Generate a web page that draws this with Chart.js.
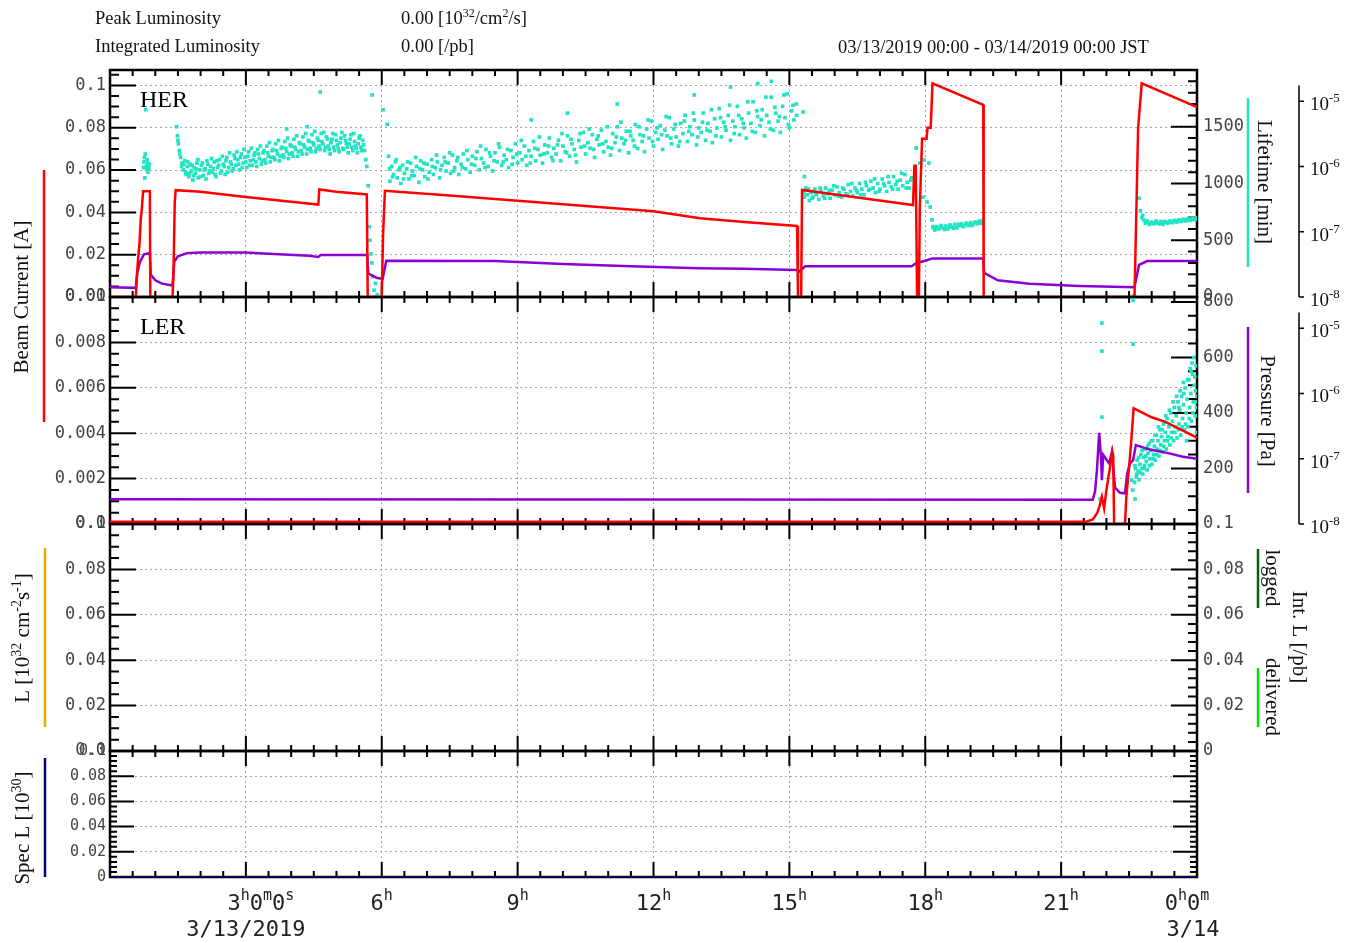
<!DOCTYPE html>
<html>
<head>
<meta charset="utf-8">
<script src="https://cdn.jsdelivr.net/npm/chart.js"></script>
<style>
  body { margin: 0; background: #fff; width: 1360px; height: 943px; position: relative; overflow: hidden; }
  canvas { position: absolute; left: 0; top: 0; }
</style>
</head>
<body>
<script>
// ---- data (hours since 3/13 00:00 JST) ----

// HER beam current [A]
const herCurrent = [[0,0],[0.57,0],[0.60,0.012],[0.62,0.018],[0.65,0.025],[0.68,0.037],[0.70,0.041],[0.73,0.05],[0.88,0.05],[0.89,0],
  [1.38,0],[1.40,0.01],[1.43,0.045],[1.45,0.0505],[2.0,0.0497],[3.0,0.0473],[4.0,0.045],[4.60,0.0437],[4.62,0.0508],[5.0,0.0497],
  [5.67,0.0485],[5.69,0],[6.00,0],[6.03,0.03],[6.07,0.0502],[7.5,0.048],[9.0,0.0455],[10.5,0.043],[12.0,0.0405],[13.03,0.0372],
  [14.0,0.0355],[15.17,0.0336],[15.19,0],[15.26,0],[15.28,0.0506],[16.5,0.047],[17.73,0.0435],[17.76,0.062],[17.79,0.062],[17.82,0],
  [17.86,0],[17.88,0.042],[17.93,0.0748],[18.03,0.0748],[18.05,0.080],[18.12,0.080],[18.16,0.101],[19.28,0.0908],[19.29,0],[22.62,0],
  [22.70,0.080],[22.78,0.101],[24,0.0898]];

// HER pressure [Pa] (log axis)
const herPressure = [[0,1.41e-8],[0.57,1.38e-8],[0.60,2.3e-8],[0.66,3.4e-8],[0.75,4.5e-8],[0.88,4.7e-8],[0.90,2.2e-8],[1.0,1.8e-8],
  [1.15,1.6e-8],[1.38,1.5e-8],[1.42,3.5e-8],[1.5,4.2e-8],[1.7,4.7e-8],[2.0,4.8e-8],[3.0,4.8e-8],[3.5,4.6e-8],[4.4,4.3e-8],[4.6,4.1e-8],
  [4.65,4.4e-8],[5.68,4.4e-8],[5.70,2.3e-8],[5.9,1.95e-8],[6.02,1.9e-8],[6.1,3.6e-8],[8.5,3.55e-8],[10,3.2e-8],[11.5,2.95e-8],
  [13,2.75e-8],[14,2.7e-8],[15.17,2.6e-8],[15.2,2.4e-8],[15.35,2.95e-8],[17.7,2.95e-8],[17.8,3.3e-8],[18.0,3.6e-8],[18.16,3.9e-8],
  [19.28,3.9e-8],[19.3,2.35e-8],[19.6,1.8e-8],[20.3,1.6e-8],[21.4,1.48e-8],[22.62,1.41e-8],[22.72,3.1e-8],[22.9,3.55e-8],[24,3.55e-8]];

// HER lifetime [min] (scatter)
const herLifetime = [
  [0.79,1650],[0.74,1140],[0.75,1190],[0.76,1230],[0.77,1050],[0.78,1260],[0.80,1150],[0.81,1120],[0.82,1210],[0.83,1180],[0.84,1100],[0.85,1160],[0.86,1130],[0.87,1170],
  [1.47,1500],[1.49,1420],[1.51,1350],[1.53,1290],[1.56,1230],[1.59,1180],[1.62,1120],[1.65,1200],[1.68,1080],[1.71,1150],[1.74,1060],[1.77,1170],[1.80,1110],[1.83,1030],
  [1.86,1140],[1.89,1090],[1.92,1180],[1.95,1050],[1.98,1120],[2.02,1160],[2.06,1070],[2.10,1130],[2.14,1200],[2.18,1090],[2.22,1150],[2.26,1100],[2.30,1190],[2.34,1060],
  [2.38,1140],[2.42,1210],[2.46,1110],[2.50,1170],[2.54,1080],[2.58,1230],[2.62,1140],[2.66,1190],[2.70,1110],[2.74,1250],[2.78,1160],[2.82,1210],[2.86,1120],[2.90,1260],
  [2.94,1180],[2.98,1230],[3.02,1140],[3.06,1280],[3.10,1200],[3.14,1160],[3.18,1250],[3.22,1190],[3.26,1300],[3.30,1220],[3.34,1170],[3.38,1270],[3.42,1210],[3.46,1330],
  [3.50,1240],[3.54,1190],[3.58,1290],[3.62,1230],[3.66,1350],[3.70,1260],[3.74,1200],[3.78,1310],[3.82,1250],[3.86,1370],[3.90,1280],[3.94,1220],[3.98,1340],[4.02,1270],
  [4.06,1390],[4.10,1300],[4.14,1240],[4.18,1360],[4.22,1290],[4.26,1410],[4.30,1320],[4.34,1260],[4.38,1380],[4.42,1310],[4.46,1430],[4.50,1340],[4.54,1280],[4.58,1400],
  [4.62,1330],[4.66,1440],[4.70,1350],[4.74,1290],[4.78,1410],[4.82,1330],[4.86,1260],[4.90,1390],[4.94,1320],[4.98,1430],[5.02,1340],[5.06,1280],[5.10,1400],[5.14,1310],
  [5.18,1420],[5.22,1350],[5.26,1270],[5.30,1390],[5.34,1320],[5.38,1440],[5.42,1330],[5.46,1270],[5.50,1400],[5.54,1320],[5.58,1380],[5.62,1290],[5.65,1210],[5.67,1150],
  [1.50,1380],[1.54,1260],[1.58,1150],[1.63,1170],[1.67,1100],[1.72,1190],[1.76,1090],[1.81,1160],[1.85,1070],[1.90,1130],[1.94,1210],[1.99,1060],[2.04,1180],[2.08,1120],
  [2.12,1040],[2.16,1170],[2.20,1110],[2.24,1220],[2.28,1130],[2.32,1080],[2.36,1200],[2.40,1160],[2.44,1090],[2.48,1240],[2.52,1150],[2.56,1200],[2.60,1100],[2.64,1270],
  [2.68,1170],[2.72,1130],[2.76,1220],[2.80,1280],[2.84,1170],[2.88,1230],[2.92,1140],[2.96,1300],[3.00,1190],[3.04,1240],[3.08,1160],[3.12,1310],[3.16,1210],[3.20,1270],
  [3.24,1150],[3.28,1260],[3.32,1330],[3.36,1200],[3.40,1290],[3.44,1180],[3.48,1270],[3.52,1360],[3.56,1230],[3.60,1300],[3.64,1210],[3.68,1290],[3.72,1380],[3.76,1240],
  [3.80,1320],[3.84,1230],[3.88,1310],[3.92,1400],[3.96,1260],[4.00,1330],[4.04,1240],[4.08,1320],[4.12,1420],[4.16,1280],[4.20,1350],[4.24,1260],[4.28,1340],[4.32,1440],
  [4.36,1300],[4.40,1370],[4.44,1280],[4.48,1360],[4.52,1460],[4.56,1310],[4.60,1380],[4.64,1300],[4.68,1370],[4.72,1450],[4.76,1320],[4.80,1390],[4.84,1300],[4.88,1360],
  [4.92,1440],[4.96,1290],[5.00,1380],[5.04,1310],[5.08,1360],[5.12,1450],[5.16,1300],[5.20,1380],[5.24,1320],[5.28,1350],[5.32,1430],[5.36,1290],[5.40,1370],[5.44,1310],
  [5.48,1350],[5.52,1420],[5.56,1290],[5.60,1340],
  [4.64,1806],[3.90,1480],[4.35,1500],
  [5.70,980],[5.72,620],[5.74,500],[5.76,380],[5.78,300],[5.80,180],[5.83,60],[5.86,120],[5.90,20],[5.79,1780],[6.03,1650],[6.12,1520],
  [6.15,1240],[6.18,1020],[6.22,1150],[6.26,1080],[6.30,1190],[6.34,1050],[6.38,1120],[6.42,1000],[6.46,1160],[6.50,1090],[6.55,1130],[6.60,1040],[6.64,1180],[6.68,1110],
  [6.72,1070],[6.77,1150],[6.82,1010],[6.86,1200],[6.90,1120],[6.95,1060],[7.00,1170],[7.05,1100],[7.10,1210],[7.14,1080],[7.18,1140],[7.23,1190],[7.28,1050],[7.33,1160],
  [7.38,1230],[7.42,1110],[7.47,1180],[7.52,1090],[7.56,1250],[7.61,1140],[7.66,1200],[7.70,1080],[7.75,1170],[7.80,1260],[7.85,1130],[7.90,1210],[7.95,1100],[8.00,1240],
  [8.05,1160],[8.10,1280],[8.15,1120],[8.20,1220],[8.25,1180],[8.30,1300],[8.35,1150],[8.40,1240],[8.45,1110],[8.50,1270],[8.55,1190],[8.60,1320],[8.65,1160],[8.70,1250],
  [8.75,1210],[8.80,1140],[8.85,1290],[8.90,1230],[8.95,1350],[9.00,1180],[9.05,1270],[9.10,1210],[9.15,1330],[9.20,1160],[9.25,1290],[9.30,1240],[9.35,1370],[9.40,1200],
  [9.45,1300],[9.50,1250],[9.55,1180],[9.60,1340],[9.65,1270],[9.70,1400],[9.75,1230],[9.80,1310],[9.85,1260],[9.90,1380],[9.95,1200],[10.00,1330],[10.05,1280],[10.10,1420],
  [10.15,1240],[10.20,1350],[10.25,1300],[10.30,1190],[10.35,1380],[10.40,1320],[10.45,1450],[10.50,1260],[10.55,1360],[10.60,1310],[10.65,1430],[10.70,1230],[10.75,1390],
  [10.80,1340],[10.85,1470],[10.90,1280],[10.95,1370],[11.00,1320],[11.05,1250],[11.10,1440],[11.15,1360],[11.20,1500],[11.25,1290],[11.30,1400],[11.35,1350],[11.40,1460],
  [11.45,1270],[11.50,1420],[11.55,1380],[11.60,1520],[11.65,1310],[11.70,1430],[11.75,1370],[11.80,1280],[11.85,1480],[11.90,1400],[11.95,1550],[12.00,1330],[12.05,1450],
  [12.10,1390],[12.15,1510],[12.20,1300],[12.25,1470],[12.30,1420],[12.35,1580],[12.40,1350],[12.45,1480],[12.50,1410],[12.55,1330],[12.60,1530],[12.65,1440],[12.70,1600],
  [12.75,1370],[12.80,1500],[12.85,1430],[12.90,1560],[12.95,1340],[13.00,1490],[13.05,1450],[13.10,1620],[13.15,1380],[13.20,1530],[13.25,1460],[13.30,1360],[13.35,1570],
  [13.40,1490],[13.45,1660],[13.50,1410],[13.55,1540],[13.60,1470],[13.65,1600],[13.70,1380],[13.75,1550],[13.80,1500],[13.85,1680],[13.90,1430],[13.95,1570],[14.00,1490],
  [14.05,1400],[14.10,1620],[14.15,1530],[14.20,1720],[14.25,1450],[14.30,1590],[14.35,1510],[14.40,1650],[14.45,1420],[14.50,1600],[14.55,1540],[14.60,1760],[14.65,1470],
  [14.70,1620],[14.75,1550],[14.80,1450],[14.85,1680],[14.90,1580],[14.95,1790],[15.00,1490],[15.05,1640],[15.10,1560],[15.15,1700],
  [6.17,1130],[6.24,1060],[6.32,1210],[6.40,1140],[6.48,1040],[6.57,1190],[6.66,1070],[6.75,1230],[6.84,1130],[6.93,1180],[7.02,1040],[7.12,1150],[7.21,1250],[7.30,1120],
  [7.40,1190],[7.50,1270],[7.59,1110],[7.68,1230],[7.78,1140],[7.88,1290],[7.98,1170],[8.08,1220],[8.18,1330],[8.28,1140],[8.38,1270],[8.48,1200],[8.58,1350],[8.68,1190],
  [8.78,1300],[8.88,1170],[8.98,1260],[9.08,1380],[9.18,1240],[9.28,1180],[9.38,1310],[9.48,1410],[9.58,1260],[9.68,1330],[9.78,1200],[9.88,1340],[9.98,1440],[10.08,1270],
  [10.18,1390],[10.28,1250],[10.38,1440],[10.48,1330],[10.58,1480],[10.68,1300],[10.78,1420],[10.88,1350],[10.98,1500],[11.08,1310],[11.18,1410],[11.28,1540],[11.38,1380],
  [11.48,1460],[11.58,1330],[11.68,1500],[11.78,1420],[11.88,1560],[11.98,1370],[12.08,1490],[12.18,1430],[12.28,1590],[12.38,1400],[12.48,1520],[12.58,1370],[12.68,1550],
  [12.78,1460],[12.88,1620],[12.98,1410],[13.08,1540],[13.18,1470],[13.28,1650],[13.38,1420],[13.48,1580],[13.58,1500],[13.68,1690],[13.78,1440],[13.88,1600],[13.98,1530],
  [14.08,1720],[14.18,1460],[14.28,1640],[14.38,1560],[14.48,1760],[14.58,1480],[14.68,1670],[14.78,1590],[14.88,1780],[14.98,1520],[15.08,1690],[15.16,1600],
  [13.70,1850],[14.30,1880],[14.60,1900],[12.90,1780],[11.20,1700],[10.10,1620],[9.30,1560],
  [15.30,1630],[15.33,1060],
  [15.30,930],[15.33,880],[15.36,960],[15.40,900],[15.44,850],[15.48,920],[15.52,880],[15.56,950],[15.60,900],[15.65,860],[15.70,930],[15.75,890],[15.80,960],[15.85,910],
  [15.90,870],[15.95,940],[16.00,900],[16.05,970],[16.10,920],[16.15,880],[16.20,950],[16.25,910],[16.30,990],[16.35,930],[16.40,890],[16.45,960],[16.50,920],[16.55,1000],
  [16.60,950],[16.65,900],[16.70,980],[16.75,940],[16.80,1020],[16.85,960],[16.90,920],[16.95,1000],[17.00,950],[17.05,1040],[17.10,980],[17.15,930],[17.20,1010],[17.25,970],
  [17.30,1060],[17.35,990],[17.40,950],[17.45,1030],[17.50,980],[17.55,1080],[17.60,1010],[17.65,960],[17.70,1050],
  [15.32,910],[15.42,950],[15.50,870],[15.58,920],[15.68,960],[15.78,870],[15.88,940],[15.98,980],[16.08,890],[16.18,960],[16.28,900],[16.38,1000],[16.48,940],
  [16.58,900],[16.68,1010],[16.78,950],[16.88,1040],[16.98,930],[17.08,1000],[17.18,1060],[17.28,950],[17.38,1020],[17.48,1090],[17.58,960],[17.68,1030],
  [17.80,1313],[17.88,1180],[18.08,1180],[17.95,880],[18.04,837],[18.11,793],[17.97,1207],
  [18.15,680],[18.18,610],[18.21,590],[18.25,620],[18.30,600],[18.35,630],[18.40,605],[18.45,625],[18.50,600],[18.55,635],[18.60,615],[18.65,640],[18.70,610],[18.75,630],
  [18.80,645],[18.85,620],[18.90,650],[18.95,630],[19.00,655],[19.05,640],[19.10,660],[19.15,645],[19.20,670],[19.25,655],[19.28,675],
  [18.17,620],[18.23,605],[18.33,615],[18.43,595],[18.53,620],[18.63,605],[18.73,640],[18.83,625],[18.93,640],[19.03,630],[19.13,655],[19.23,650],
  [22.60,10],[22.72,870],[22.75,760],[22.78,700],[22.82,680],[22.86,650],[22.90,670],[22.95,640],[23.00,660],[23.05,645],[23.10,670],[23.15,650],[23.20,665],[23.25,640],
  [23.30,660],[23.35,650],[23.40,670],[23.45,655],[23.50,675],[23.55,660],[23.60,680],[23.65,665],[23.70,685],[23.75,670],[23.80,690],[23.85,675],[23.90,695],[23.95,680],[24.00,700],
  [22.80,720],[22.88,660],[22.98,650],[23.08,655],[23.18,645],[23.28,665],[23.38,660],[23.48,665],[23.58,670],[23.68,675],[23.78,680],[23.88,685],[23.98,690]];

// LER beam current [A]
const lerCurrent = [[0,0.0001],[21.55,0.0001],[21.7,0.0002],[21.8,0.0005],[21.85,0.0008],[21.9,0.0012],[21.95,0.0007],[22.0,0.0015],
  [22.08,0.0025],[22.13,0.0032],[22.15,0.003],[22.17,0],[22.41,0],[22.44,0.0012],[22.5,0.0025],[22.55,0.0037],[22.6,0.0051],
  [22.8,0.0049],[23.0,0.0047],[23.3,0.0045],[23.6,0.0042],[24,0.0038]];

// LER pressure [Pa] (log axis)
const lerPressure = [[0,2.4e-8],[21.70,2.35e-8],[21.75,3.2e-8],[21.79,6.6e-8],[21.84,2.5e-7],[21.88,1.07e-7],[21.90,4.7e-8],[21.93,1.15e-7],
  [22.01,9.5e-8],[22.06,8.5e-8],[22.12,1.26e-7],[22.15,7.4e-8],[22.19,3.6e-8],[22.30,3.0e-8],[22.41,2.95e-8],[22.46,6.0e-8],[22.52,8.5e-8],
  [22.59,9.5e-8],[22.65,1.62e-7],[22.96,1.38e-7],[23.34,1.23e-7],[23.69,1.07e-7],[24,1.0e-7]];

// LER lifetime [min] (scatter)
const lerLifetime = [
  [21.90,724],[21.90,623],[21.90,385],[21.86,90],[22.59,648],[22.59,806],[22.63,90],[22.58,122],[22.56,158],
  [22.62,150],[22.64,200],[22.66,170],[22.68,230],[22.70,190],[22.72,160],[22.74,215],[22.76,250],[22.78,200],[22.80,180],[22.82,240],
  [22.84,210],[22.86,270],[22.88,225],[22.90,195],[22.92,255],[22.94,290],[22.96,235],[22.98,265],[23.00,215],[23.02,300],[23.04,250],
  [23.06,280],[23.08,230],[23.10,320],[23.12,270],[23.14,300],[23.16,245],[23.18,340],[23.20,285],[23.22,315],[23.24,260],[23.26,360],
  [23.28,300],[23.30,330],[23.32,270],[23.34,380],[23.36,315],[23.38,350],[23.40,285],[23.42,400],[23.44,330],[23.46,370],[23.48,300],
  [23.50,420],[23.52,350],[23.54,390],[23.56,310],[23.58,440],[23.60,360],[23.62,410],[23.64,320],[23.66,460],[23.68,380],[23.70,430],
  [23.72,340],[23.74,490],[23.76,400],[23.78,450],[23.80,350],[23.82,520],[23.84,420],[23.86,470],[23.88,370],[23.90,540],[23.92,440],
  [23.94,500],[23.96,390],[23.98,570],[24.00,460],[23.85,560],[23.93,600],[23.70,510],[23.97,480],[23.99,330],
  [22.63,210],[22.67,180],[22.71,240],[22.75,185],[22.79,265],[22.83,200],[22.87,245],[22.91,280],[22.95,210],[22.99,300],[23.03,235],
  [23.07,320],[23.11,250],[23.15,350],[23.19,265],[23.23,340],[23.27,280],[23.31,390],[23.35,300],[23.39,410],[23.43,310],[23.47,440],
  [23.51,330],[23.55,460],[23.59,340],[23.63,480],[23.67,350],[23.71,470],[23.75,360],[23.79,520],[23.83,380],[23.87,550],[23.91,400],
  [23.95,530],[23.99,420],[23.89,580],[23.96,440],[23.77,300],[23.60,420]];

// Spec L [1e30]
const specLum = [[0,0],[24,0]];

// axis ticks and labels
const xGridHours = [3, 6, 9, 12, 15, 18, 21];
const xTickHours = [3, 6, 9, 12, 15, 18, 21, 24];
const xTickText = ['3^{h}0^{m}0^{s}', '6^{h}', '9^{h}', '12^{h}', '15^{h}', '18^{h}', '21^{h}', '0^{h}0^{m}'];
const dateHours = [3, 24];
const dateText = ['3/13/2019', '3/14'];
const logDecades = [1e-8, 1e-7, 1e-6, 1e-5];
const logLabels = ['10^{-8}', '10^{-7}', '10^{-6}', '10^{-5}'];

const herTicks = [0, 0.02, 0.04, 0.06, 0.08, 0.1];
const herLabels = ['0.00', '0.02', '0.04', '0.06', '0.08', '0.1'];
const herLifeTicks = [0, 500, 1000, 1500];
const herLifeLabels = ['0', '500', '1000', '1500'];
const lerTicks = [0, 0.002, 0.004, 0.006, 0.008, 0.01];
const lerLabels = ['0.0', '0.002', '0.004', '0.006', '0.008', '0.01'];
const lerLifeTicks = [200, 400, 600, 800];
const lerLifeLabels = ['200', '400', '600', '800'];
const lumTicks = [0, 0.02, 0.04, 0.06, 0.08, 0.1];
const lumLabels = ['0.0', '0.02', '0.04', '0.06', '0.08', '0.1'];
const intLTicks = [0, 0.02, 0.04, 0.06, 0.08, 0.1];
const intLLabels = ['0', '0.02', '0.04', '0.06', '0.08', '0.1'];
const specTicks = [0, 0.02, 0.04, 0.06, 0.08, 0.1];
const specLabels = ['0', '0.02', '0.04', '0.06', '0.08', '0.1'];

// ---- layout / styles ----
const W = 1360, H = 943, PL = 110, PR = 1197;
const RED = '#ff0000', PURPLE = '#8c00d4', CYAN = '#22e3c3';
const GRID = '#a8a8a8';
const TICK_FONT = 'DejaVu Sans Mono';
const SERIF = '"Liberation Serif", serif';
const TITLE_F = { base: '21px ' + SERIF, sup: '14px ' + SERIF, rise: 8 };
const LOG_F = { base: '19px ' + SERIF, sup: '13px ' + SERIF, rise: 8 };
const HEAD_F = { base: '18.5px ' + SERIF, sup: '12px ' + SERIF, rise: 7 };
const XLAB_F = { base: '22px ' + TICK_FONT, sup: '15px ' + TICK_FONT, rise: 10 };
const xLabelShift = [15, 0, 0, 0, 0, 0, 0, -10];

const toXY = arr => arr.map(([x, y]) => ({ x, y }));
const line = (data, color, axis) => ({ data: toXY(data), borderColor: color, borderWidth: 2.5, pointRadius: 0, yAxisID: axis, tension: 0 });
const dots = (data, color, axis) => ({ data: toXY(data), showLine: false, pointRadius: 2.6, pointStyle: 'rect',
  pointBackgroundColor: color, pointBorderWidth: 0, borderColor: color, yAxisID: axis });

const panels = [
  { top: 70, bottom: 297, yMax: 0.1073, yTicks: herTicks, yLabels: herLabels, yMajor: 0.02, yMinor: 0.005,
    y2Max: 2000, y2Ticks: herLifeTicks, y2Labels: herLifeLabels, y2Major: 500, y2Minor: 100, font: 17, logAxis: true,
    name: 'HER', tickLen: [26, 9],
    datasets: [line(herCurrent, RED, 'y'), line(herPressure, PURPLE, 'yLog'), dots(herLifetime, CYAN, 'y2')],
    titles: [
      { text: 'Beam Current [A]', x: 21, y: 297, rot: -90, color: RED, lx: 44, ly: [170, 422] },
      { text: 'Lifetime [min]', x: 1265, y: 182, rot: 90, color: CYAN, lx: 1248, ly: [98, 267] }] },
  { top: 297, bottom: 524, yMax: 0.01, yTicks: lerTicks, yLabels: lerLabels, yMajor: 0.002, yMinor: 0.0005,
    y2Max: 818, y2Ticks: lerLifeTicks, y2Labels: lerLifeLabels, y2Major: 200, y2Minor: 50, font: 17, logAxis: true,
    name: 'LER', tickLen: [26, 9],
    datasets: [line(lerCurrent, RED, 'y'), line(lerPressure, PURPLE, 'yLog'), dots(lerLifetime, CYAN, 'y2')],
    titles: [{ text: 'Pressure [Pa]', x: 1268, y: 411, rot: 90, color: PURPLE, lx: 1248, ly: [327, 493] }] },
  { top: 524, bottom: 751, yMax: 0.1, yTicks: lumTicks, yLabels: lumLabels, yMajor: 0.02, yMinor: 0.005,
    y2Max: 0.1, y2Ticks: intLTicks, y2Labels: intLLabels, y2Major: 0.02, y2Minor: 0.004, font: 17,
    tickLen: [26, 9], datasets: [],
    titles: [
      { text: 'L [10^{32} cm^{-2}s^{-1}]', x: 22, y: 638, rot: -90, color: '#f0a800', lx: 45, ly: [548, 727] },
      { text: 'Int. L [/pb]', x: 1300, y: 637, rot: 90 },
      { text: 'logged', x: 1273, y: 578, rot: 90, color: '#006400', lx: 1258, ly: [549, 608] },
      { text: 'delivered', x: 1273, y: 697, rot: 90, color: '#00e000', lx: 1258, ly: [668, 727] }] },
  { top: 751, bottom: 877, yMax: 0.1, yTicks: specTicks, yLabels: specLabels, yMajor: 0.02, yMinor: 0.004,
    y2Max: 0.1, y2Ticks: [], y2Labels: [], y2Major: 0.02, y2Minor: 0.004, font: 15,
    tickLen: [24, 7], xLabels: true,
    datasets: [{ data: toXY(specLum), borderColor: '#000080', borderWidth: 2, pointRadius: 0, yAxisID: 'y' }],
    titles: [{ text: 'Spec L [10^{30}]', x: 22, y: 828, rot: -90, color: '#000080', lx: 45, ly: [758, 877] }] }
];

// ---- helpers for text with superscripts ----
function parts(str) {
  const out = [], re = /\^\{([^}]*)\}/g;
  let last = 0, m;
  while ((m = re.exec(str))) {
    if (m.index > last) out.push([str.slice(last, m.index), false]);
    out.push([m[1], true]);
    last = re.lastIndex;
  }
  if (last < str.length) out.push([str.slice(last), false]);
  return out;
}
function richWidth(ctx, str, f) {
  let w = 0;
  for (const [t, s] of parts(str)) { ctx.font = s ? f.sup : f.base; w += ctx.measureText(t).width; }
  return w;
}
function drawRich(ctx, str, x, y, f) {
  let cx = x;
  ctx.textAlign = 'left';
  ctx.textBaseline = 'alphabetic';
  for (const [t, s] of parts(str)) {
    ctx.font = s ? f.sup : f.base;
    ctx.fillText(t, cx, s ? y - f.rise : y);
    cx += ctx.measureText(t).width;
  }
}

//ticks pointing into the panel, from one edge
function vTicks(ctx, scale, x, dir, major, minor, len) {
  const n = Math.floor(scale.max / minor + 1e-6);
  for (let k = 1; k <= n; k++) {
    const v = k * minor;
    if (v >= scale.max - 1e-9) continue;
    const isMaj = Math.abs(v / major - Math.round(v / major)) < 1e-6;
    const y = scale.getPixelForValue(v);
    ctx.moveTo(x, y);
    ctx.lineTo(x + dir * (isMaj ? len[0] : len[1]), y);
  }
}

function framePlugin(p) {
  return {
    id: 'frame',
    beforeDatasetsDraw(chart) {
      const ctx = chart.ctx, a = chart.chartArea, xs = chart.scales.x;
      ctx.save();
      ctx.strokeStyle = '#000';
      ctx.lineWidth = 2;
      ctx.beginPath();
      vTicks(ctx, chart.scales.y, a.left, 1, p.yMajor, p.yMinor, p.tickLen);
      vTicks(ctx, chart.scales.y2, a.right, -1, p.y2Major, p.y2Minor, p.tickLen);
      for (let k = 1; k < 48; k++) {
        const x = xs.getPixelForValue(k * 0.5);
        const len = k % 6 === 0 ? 15 : 6;
        ctx.moveTo(x, a.top); ctx.lineTo(x, a.top + len);
        ctx.moveTo(x, a.bottom); ctx.lineTo(x, a.bottom - len);
      }
      ctx.stroke();
      ctx.lineWidth = 2.5;
      ctx.strokeRect(a.left, a.top, a.right - a.left, a.bottom - a.top);
      ctx.restore();
    },
    afterDraw(chart) {
      const ctx = chart.ctx, a = chart.chartArea;
      ctx.save();
      if (p.name) {
        ctx.fillStyle = '#000';
        ctx.font = '24px ' + SERIF;
        ctx.fillText(p.name, 140, a.top + 37);
      }
      for (const t of p.titles) {
        ctx.save();
        ctx.translate(t.x, t.y);
        ctx.rotate(t.rot * Math.PI / 180);
        ctx.fillStyle = '#111';
        const w = richWidth(ctx, t.text, TITLE_F);
        drawRich(ctx, t.text, -w / 2, 7, TITLE_F);
        ctx.restore();
        if (t.color) {
          ctx.strokeStyle = t.color;
          ctx.lineWidth = 2.5;
          ctx.beginPath();
          ctx.moveTo(t.lx, t.ly[0]); ctx.lineTo(t.lx, t.ly[1]);
          ctx.stroke();
        }
      }
      if (p.logAxis) {
        const ls = chart.scales.yLog, ax = 1299;
        ctx.strokeStyle = '#000';
        ctx.fillStyle = '#111';
        ctx.lineWidth = 1.5;
        ctx.beginPath();
        ctx.moveTo(ax, ls.getPixelForValue(1.74e-5));
        ctx.lineTo(ax, ls.getPixelForValue(1e-8));
        logDecades.forEach(d => {
          const y = ls.getPixelForValue(d);
          ctx.moveTo(ax, y); ctx.lineTo(ax + 5, y);
        });
        ctx.stroke();
        logDecades.forEach((d, i) => drawRich(ctx, logLabels[i], 1310, ls.getPixelForValue(d) + 9, LOG_F));
      }
      if (p.name === 'HER') {
        // header lines
        ctx.fillStyle = '#111';
        drawRich(ctx, 'Peak Luminosity', 95, 24, HEAD_F);
        drawRich(ctx, '0.00 [10^{32}/cm^{2}/s]', 401, 24, HEAD_F);
        drawRich(ctx, 'Integrated Luminosity', 95, 52, HEAD_F);
        drawRich(ctx, '0.00 [/pb]', 401, 52, HEAD_F);
        drawRich(ctx, '03/13/2019 00:00 - 03/14/2019 00:00 JST', 838, 53, HEAD_F);
      }
      if (p.xLabels) {
        const xs = chart.scales.x;
        ctx.fillStyle = '#222';
        xTickHours.forEach((h, i) => {
          const w = richWidth(ctx, xTickText[i], XLAB_F);
          drawRich(ctx, xTickText[i], xs.getPixelForValue(h) - w / 2 + xLabelShift[i], 910, XLAB_F);
        });
        dateHours.forEach((h, i) => {
          const w = richWidth(ctx, dateText[i], XLAB_F);
          drawRich(ctx, dateText[i], xs.getPixelForValue(h) - w / 2 - (i === 1 ? 4 : 0), 936, XLAB_F);
        });
      }
      ctx.restore();
    }
  };
}

const clear = 'rgba(0,0,0,0)';

function makeChart(p) {
  const cv = document.createElement('canvas');
  cv.width = W; cv.height = H;
  document.body.appendChild(cv);
  return new Chart(cv, {
    type: 'line',
    data: { datasets: p.datasets },
    options: {
      responsive: false,
      animation: false,
      devicePixelRatio: 1,
      layout: { padding: { left: 0, right: 0, top: p.top, bottom: H - p.bottom } },
      plugins: { legend: { display: false }, tooltip: { enabled: false } },
      scales: {
        x: {
          type: 'linear', min: 0, max: 24,
          afterBuildTicks: s => { s.ticks = xGridHours.map(v => ({ value: v })); },
          ticks: { display: false },
          grid: { drawTicks: false, color: GRID, lineWidth: 1 },
          border: { display: false, dash: [2, 3] }
        },
        y: {
          type: 'linear', position: 'left', min: 0, max: p.yMax,
          afterFit: s => { s.width = PL; },
          afterBuildTicks: s => { s.ticks = p.yTicks.map(v => ({ value: v })); },
          ticks: { autoSkip: false, padding: 4, color: '#444', font: { family: TICK_FONT, size: p.font },
                   callback: (v, i) => p.yLabels[i] },
          grid: { drawTicks: false, lineWidth: 1,
                  color: c => (c.tick && (c.tick.value <= 0 || c.tick.value >= p.yMax - 1e-9)) ? clear : GRID },
          border: { display: false, dash: [2, 3] }
        },
        y2: {
          type: 'linear', position: 'right', min: 0, max: p.y2Max,
          afterFit: s => { s.width = W - PR; },
          afterBuildTicks: s => { s.ticks = p.y2Ticks.map(v => ({ value: v })); },
          ticks: { autoSkip: false, padding: 6, color: '#444', font: { family: TICK_FONT, size: 17 },
                   callback: (v, i) => p.y2Labels[i] },
          grid: { display: false, drawTicks: false },
          border: { display: false }
        },
        yLog: { type: 'logarithmic', display: false, min: 1e-8, max: 3.0e-5 }
      }
    },
    plugins: [framePlugin(p)]
  });
}

panels.forEach(makeChart);
</script>
</body>
</html>
